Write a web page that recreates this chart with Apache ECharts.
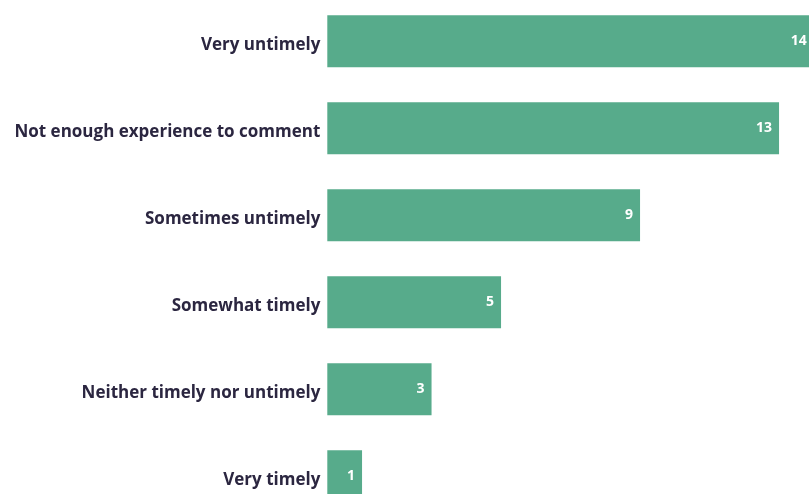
<!DOCTYPE html>
<html><head><meta charset="utf-8">
<script src="https://cdn.jsdelivr.net/npm/echarts@6/dist/echarts.min.js"></script>
<style>html,body{margin:0;padding:0;background:#fff}#c{width:809px;height:494px}</style>
</head><body><div id="c"></div>
<script>
const categories = ["Very untimely","Not enough experience to comment","Sometimes untimely","Somewhat timely","Neither timely nor untimely","Very timely"];
const values = [14,13,9,5,3,1];
const chart = echarts.init(document.getElementById('c'), null, {renderer:'canvas'});
chart.setOption({
  animation:false,
  grid:{left:327.3,width:486.5,top:-2.2,height:522,containLabel:false,outerBoundsMode:'none'},
  xAxis:{type:'value',min:0,max:14,show:false},
  yAxis:{type:'category',data:categories,inverse:true,
    axisLine:{show:false},axisTick:{show:false},
    axisLabel:{margin:7,formatter:'{a|{value}}',
      rich:{a:{color:'#2b2640',fontFamily:'Open Sans',fontWeight:'bold',fontSize:17,padding:[7,0,0,0]}}}},
  series:[{type:'bar',data:values,barWidth:52,
    itemStyle:{color:'#57ab8b'},
    label:{show:true,position:'insideRight',distance:7,color:'#ffffff',fontFamily:'Open Sans',fontWeight:'bold',fontSize:14}}]
});
</script></body></html>
